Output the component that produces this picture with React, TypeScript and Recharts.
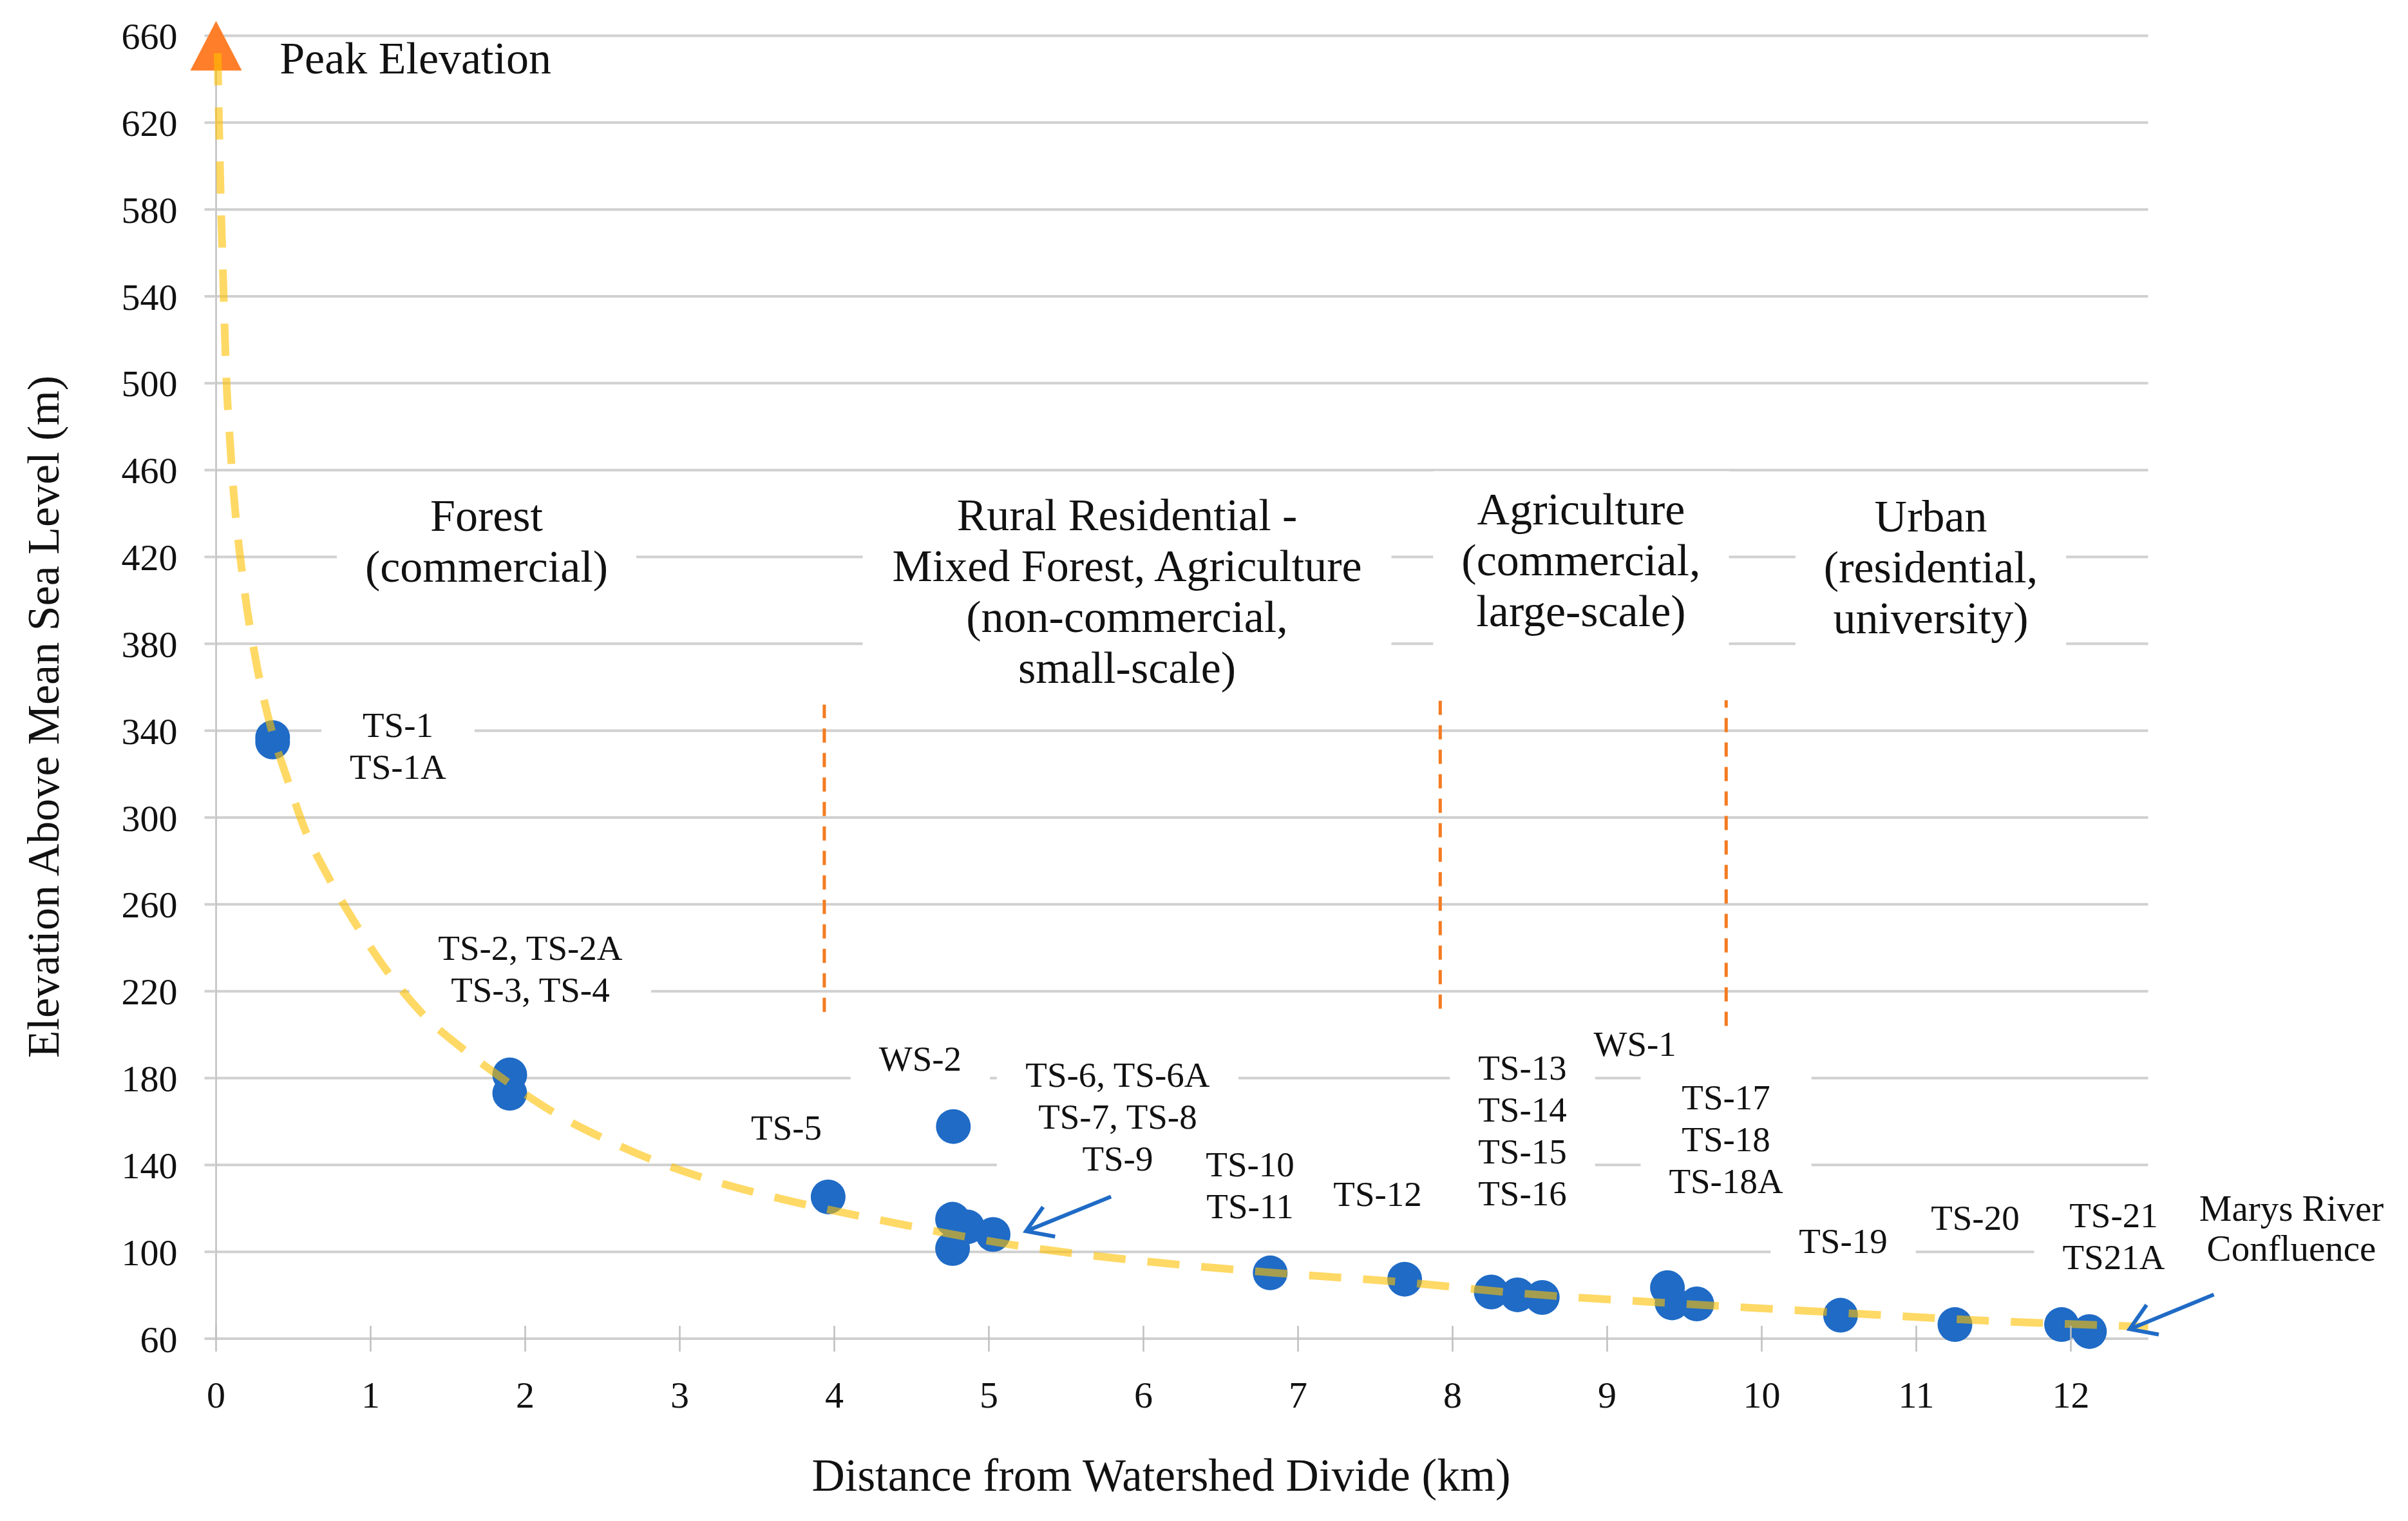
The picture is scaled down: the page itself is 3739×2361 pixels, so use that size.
import React from 'react';
import {
  ComposedChart,
  XAxis,
  YAxis,
  CartesianGrid,
  Scatter,
  Line,
  ReferenceLine,
  ReferenceDot,
} from 'recharts';

const FONT = '"Liberation Serif", "Times New Roman", Times, serif';
const BLUE = '#1F6BC6';
const TEXT = '#111111';
const GRID = '#D0D0D0';

// ---------- data ----------
const xTicks = [0, 1, 2, 3, 4, 5, 6, 7, 8, 9, 10, 11, 12];
const yTicks = [60, 100, 140, 180, 220, 260, 300, 340, 380, 420, 460, 500, 540, 580, 620, 660];

// sampling sites (distance km, elevation m)
const siteX = [0.366, 0.366, 1.9, 1.9, 3.96, 4.77, 4.765, 4.86, 4.765, 5.027, 6.82, 7.69, 8.25, 8.42, 8.58, 9.39, 9.42, 9.58, 10.51, 11.25, 11.94, 12.12];
const siteY = [336.8, 334.8, 181.5, 173, 125.3, 157.7, 115, 111.5, 101.5, 108, 90.3, 87.4, 81.5, 80.2, 79, 83.5, 76.5, 76, 70.8, 66.5, 66.5, 63.3];

// peak elevation marker
const peakX = [0];
const peakY = [652];

// trendline
const trendX = [0.01, 0.026, 0.045, 0.065, 0.094, 0.187, 0.253, 0.364, 0.455, 0.572, 0.731, 0.912, 1.104, 1.337, 1.614, 1.9, 2.188, 2.528, 2.783, 3.2, 3.65, 4.41, 5.17, 6.1, 6.82, 7.68, 8.42, 9.5, 10.5, 11.25, 12.08, 12.5];
const trendY = [652, 597, 550, 505, 469, 403, 374, 339, 319, 295, 272, 250, 229.5, 209.5, 192.5, 177.5, 164, 151.5, 143.5, 133, 124.5, 113, 103, 95, 90.5, 86, 81, 76, 72, 69, 66.5, 65.5];

// land-use zone labels
const zoneText = [
  ['Forest', '(commercial)'],
  ['Rural Residential -', 'Mixed Forest, Agriculture', '(non-commercial,', 'small-scale)'],
  ['Agriculture', '(commercial,', 'large-scale)'],
  ['Urban', '(residential,', 'university)'],
];
const zoneX = [1.75, 5.894, 8.831, 11.094];
const zoneY = [427.4, 404, 418.4, 415.2];

// site labels
const siteLabelText = [
  ['TS-1', 'TS-1A'],
  ['TS-2, TS-2A', 'TS-3, TS-4'],
  ['TS-5'],
  ['WS-2'],
  ['TS-6, TS-6A', 'TS-7, TS-8', 'TS-9'],
  ['TS-10', 'TS-11'],
  ['TS-12'],
  ['TS-13', 'TS-14', 'TS-15', 'TS-16'],
  ['WS-1'],
  ['TS-17', 'TS-18', 'TS-18A'],
  ['TS-19'],
  ['TS-20'],
  ['TS-21', 'TS21A'],
];
const siteLabelX = [1.177, 2.033, 3.69, 4.556, 5.833, 6.69, 7.515, 8.452, 9.18, 9.769, 10.527, 11.381, 12.277];
const siteLabelY = [332.9, 230.3, 157.3, 188.9, 162.3, 130.6, 126.7, 155.7, 195.7, 151.9, 104.8, 115.5, 107.3];

const peakLabel = 'Peak Elevation';
const peakLabelPos = { x: 0.411, y: 649.7 };
const confluenceText = ['Marys River', 'Confluence'];
const confluencePos = { x: 13.427, y: 110.8 };

// zone divider lines
const dividerX = [3.935, 7.92, 9.77];
const dividerBottom = [210.5, 212, 204];
const dividerTop = [352, 354, 354];

// arrows (tail -> head)
const arrowTailX = [5.79, 12.925];
const arrowTailY = [125.4, 80.3];
const arrowHeadX = [5.24, 12.38];
const arrowHeadY = [109.5, 64.4];

const xTitle = 'Distance from Watershed Divide (km)';
const yTitle = 'Elevation Above Mean Sea Level (m)';

// ---------- derived tables ----------
const sites = siteX.map((x, i) => ({ x, y: siteY[i] }));
const peak = peakX.map((x, i) => ({ x, y: peakY[i] }));
const trend = trendX.map((x, i) => ({ x, y: trendY[i] }));

// approximate Times-like glyph widths (em) for white label boxes
const GW: Record<string, number> = {
  T: 0.611, S: 0.556, W: 0.944, A: 0.722, M: 0.889, R: 0.667, C: 0.667, F: 0.556, P: 0.556,
  E: 0.611, U: 0.722, D: 0.722, L: 0.611,
  a: 0.444, b: 0.5, c: 0.444, d: 0.5, e: 0.444, f: 0.333, g: 0.5, h: 0.5, i: 0.278, k: 0.5,
  l: 0.278, m: 0.778, n: 0.5, o: 0.5, r: 0.333, s: 0.389, t: 0.278, u: 0.5, v: 0.5, x: 0.5, y: 0.5,
  '-': 0.333, ',': 0.25, ' ': 0.25, '(': 0.333, ')': 0.333,
};
const textWidth = (s: string, fs: number) => {
  let w = 0;
  for (const c of s) w += GW[c] ?? 0.5;
  return w * fs;
};

const makeBoxedLabel = (lines: string[], fs: number, lh: number, pad: number, vpad: number, box = true) =>
  (props: any) => {
    const { cx, cy } = props;
    if (cx == null || cy == null) return <g />;
    const w = Math.max(...lines.map((l) => textWidth(l, fs))) + 2 * pad;
    const h = lines.length * lh + 2 * vpad;
    return (
      <g>
        {box && <rect x={cx - w / 2} y={cy - h / 2} width={w} height={h} fill="#ffffff" />}
        {lines.map((l, i) => (
          <text
            key={i}
            x={cx}
            y={cy + (i - (lines.length - 1) / 2) * lh}
            textAnchor="middle"
            dominantBaseline="central"
            fontSize={fs}
            fontFamily={FONT}
            fill={TEXT}
          >
            {l}
          </text>
        ))}
      </g>
    );
  };

const PeakText = (props: any) => {
  const { cx, cy } = props;
  if (cx == null || cy == null) return <g />;
  return (
    <text x={cx} y={cy} textAnchor="start" dominantBaseline="central" fontSize={70} fontFamily={FONT} fill={TEXT}>
      {peakLabel}
    </text>
  );
};

const Arrow = (p: any) => {
  const { x1, y1, x2, y2 } = p;
  if ([x1, y1, x2, y2].some((v) => v == null || isNaN(v))) return <g />;
  const ang = Math.atan2(y1 - y2, x1 - x2);
  const L = 46;
  const s = 0.57;
  const ax = x2 + L * Math.cos(ang + s);
  const ay = y2 + L * Math.sin(ang + s);
  const bx = x2 + L * Math.cos(ang - s);
  const by = y2 + L * Math.sin(ang - s);
  return (
    <g stroke={BLUE} strokeWidth={6} fill="none">
      <line x1={x1} y1={y1} x2={x2} y2={y2} />
      <polyline points={`${ax},${ay} ${x2},${y2} ${bx},${by}`} strokeLinejoin="miter" />
    </g>
  );
};

const Dot = (p: any) => {
  const { cx, cy } = p;
  if (cx == null || cy == null) return <g />;
  return <circle cx={cx} cy={cy} r={27} fill={BLUE} />;
};

const Triangle = (p: any) => {
  const { cx, cy } = p;
  if (cx == null || cy == null) return <g />;
  return <polygon points={`${cx},${cy - 50} ${cx - 40},${cy + 27} ${cx + 40},${cy + 27}`} fill="#FF7E29" />;
};

const XTick = (p: any) => {
  const { x, y, payload } = p;
  return (
    <g>
      <line x1={x} x2={x} y1={y - 20} y2={y + 20} stroke="#BFBFBF" strokeWidth={2.5} />
      <text x={x} y={y + 107} textAnchor="middle" fontSize={58} fontFamily={FONT} fill={TEXT}>
        {payload.value}
      </text>
    </g>
  );
};

const XTitle = () => (
  <text x={1803} y={2290} textAnchor="middle" dominantBaseline="central" fontSize={71} fontFamily={FONT} fill={TEXT}>
    {xTitle}
  </text>
);

const YTitle = () => (
  <text
    x={67}
    y={1112.5}
    transform="rotate(-90, 67, 1112.5)"
    textAnchor="middle"
    dominantBaseline="central"
    fontSize={70}
    fontFamily={FONT}
    fill={TEXT}
  >
    {yTitle}
  </text>
);

export default function App() {
  return (
    <div style={{ position: 'absolute', left: 0, top: 0, width: 3739, height: 2361, background: '#ffffff' }}>
      <ComposedChart
        width={3739}
        height={2361}
        margin={{ top: 55.5, right: 403.5, bottom: 183, left: 235.5 }}
      >
        <CartesianGrid vertical={false} stroke={GRID} strokeWidth={4} />
        <XAxis
          type="number"
          dataKey="x"
          domain={[0, 12.5]}
          ticks={xTicks}
          interval={0}
          height={100}
          tickSize={0}
          tickMargin={0}
          tickLine={false}
          axisLine={{ stroke: GRID, strokeWidth: 4 }}
          tick={<XTick />}
          label={XTitle}
        />
        <YAxis
          type="number"
          dataKey="y"
          domain={[60, 660]}
          ticks={yTicks}
          interval={0}
          width={100}
          tickSize={18}
          tickMargin={42}
          tickLine={{ stroke: GRID, strokeWidth: 4 }}
          axisLine={{ stroke: '#BFBFBF', strokeWidth: 2.5 }}
          tick={{ fontSize: 58, fontFamily: FONT, fill: TEXT }}
          label={YTitle}
        />

        {zoneText.map((lines, i) => (
          <ReferenceDot
            key={`zone-${i}`}
            x={zoneX[i]}
            y={zoneY[i]}
            r={1}
            ifOverflow="visible"
            zIndex={50}
            shape={makeBoxedLabel(lines, 70, 79, 44, 20)}
          />
        ))}
        {siteLabelText.map((lines, i) => (
          <ReferenceDot
            key={`site-${i}`}
            x={siteLabelX[i]}
            y={siteLabelY[i]}
            r={1}
            ifOverflow="visible"
            zIndex={50}
            shape={makeBoxedLabel(lines, 55, 65, 44, 15)}
          />
        ))}
        <ReferenceDot
          x={confluencePos.x}
          y={confluencePos.y}
          r={1}
          ifOverflow="visible"
          zIndex={50}
          shape={makeBoxedLabel(confluenceText, 57, 62, 0, 0, false)}
        />
        <ReferenceDot x={peakLabelPos.x} y={peakLabelPos.y} r={1} ifOverflow="visible" zIndex={50} shape={PeakText} />

        {dividerX.map((x, i) => (
          <ReferenceLine
            key={`div-${i}`}
            segment={[
              { x, y: dividerBottom[i] },
              { x, y: dividerTop[i] },
            ]}
            stroke="#F47B20"
            strokeWidth={5}
            strokeDasharray="22 16"
            ifOverflow="visible"
            zIndex={60}
          />
        ))}

        <Scatter data={sites} dataKey="y" shape={Dot} isAnimationActive={false} zIndex={600} />
        <Scatter data={peak} dataKey="y" shape={Triangle} isAnimationActive={false} zIndex={610} />

        <Line
          data={trend}
          dataKey="y"
          type="monotone"
          stroke="#FFC000"
          strokeOpacity={0.6}
          strokeWidth={12}
          strokeDasharray="50 34"
          dot={false}
          activeDot={false}
          isAnimationActive={false}
          zIndex={700}
        />

        {arrowTailX.map((x, i) => (
          <ReferenceLine
            key={`arrow-${i}`}
            segment={[
              { x, y: arrowTailY[i] },
              { x: arrowHeadX[i], y: arrowHeadY[i] },
            ]}
            ifOverflow="visible"
            zIndex={800}
            shape={Arrow}
          />
        ))}
      </ComposedChart>
    </div>
  );
}
